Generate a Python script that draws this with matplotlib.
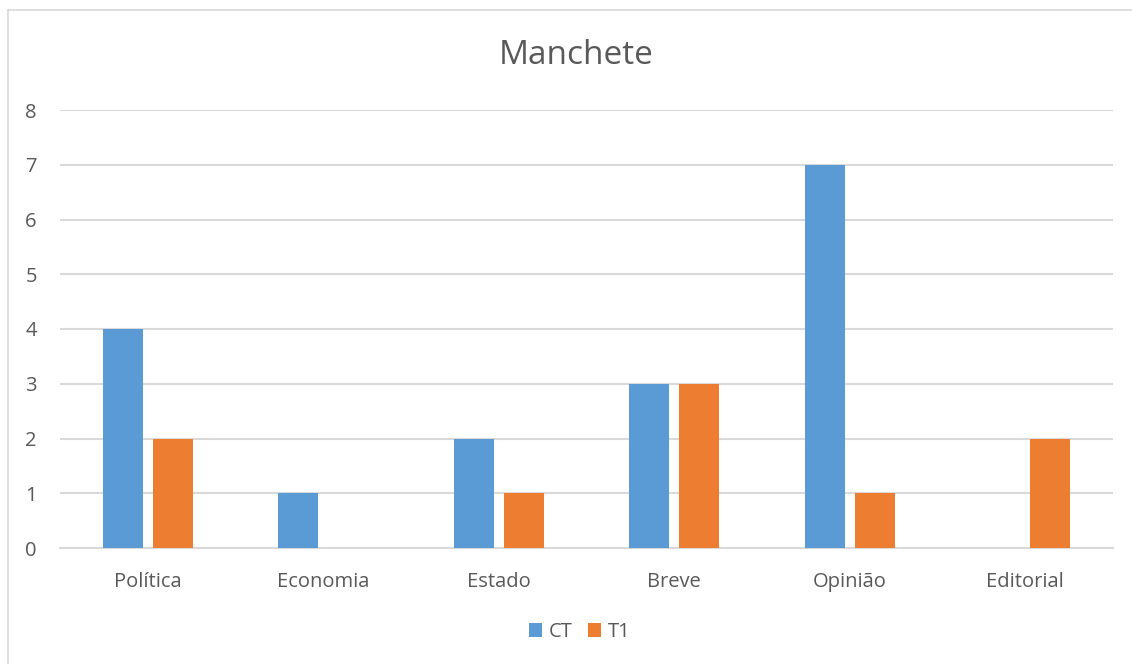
import numpy as np
import matplotlib.pyplot as plt
from matplotlib.lines import Line2D

categories = ['Política', 'Economia', 'Estado', 'Breve', 'Opinião', 'Editorial']
ct_values = [4, 1, 2, 3, 7, 0]
t1_values = [2, 0, 1, 3, 1, 2]
y_ticks = [0, 1, 2, 3, 4, 5, 6, 7, 8]

BLUE = '#5B9BD5'
ORANGE = '#ED7D31'
TEXT = '#595959'
GRID = '#D9D9D9'

plt.rcParams['font.family'] = ['Open Sans', 'DejaVu Sans']

fig = plt.figure(figsize=(11.32, 6.64), dpi=100)
ax = fig.add_axes([60 / 1132, 1 - 548 / 664, 1053 / 1132, 438 / 664])

x = np.arange(len(categories))
w = 40 / 175.5
off = 25 / 175.5
ax.bar(x - off, ct_values, w, color=BLUE, label='CT', zorder=3)
ax.bar(x + off, t1_values, w, color=ORANGE, label='T1', zorder=3)

ax.set_xlim(-0.5, len(categories) - 0.5)
ax.set_ylim(0, 8)
ax.set_yticks(y_ticks)
ax.set_xticks(x)
ax.set_xticklabels(categories)
ax.yaxis.grid(True, color=GRID, linewidth=1.5, zorder=0)
ax.set_axisbelow(True)
for side in ['left', 'right', 'top']:
    ax.spines[side].set_visible(False)
ax.spines['bottom'].set_color(GRID)
ax.spines['bottom'].set_linewidth(1.5)
ax.tick_params(axis='both', length=0, colors=TEXT, labelsize=14.5)
ax.tick_params(axis='x', pad=17)
ax.tick_params(axis='y', pad=25)
for lbl in ax.get_yticklabels():
    lbl.set_horizontalalignment('left')

fig.text(576 / 1132, 1 - 55 / 664, 'Manchete', ha='center', va='center',
         fontsize=24, color=TEXT)

leg = fig.legend(loc='center', bbox_to_anchor=(580 / 1132, 1 - 632 / 664),
                 ncol=2, frameon=False, fontsize=14.5, handlelength=0.65,
                 handleheight=0.65, handletextpad=0.35, columnspacing=0.75)
for t in leg.get_texts():
    t.set_color(TEXT)

# chart frame
fig.add_artist(Line2D([8 / 1132, 8 / 1132], [0, 1 - 10 / 664], color=GRID,
                      linewidth=1.2, transform=fig.transFigure))
fig.add_artist(Line2D([8 / 1132, 1], [1 - 10 / 664, 1 - 10 / 664], color=GRID,
                      linewidth=1.2, transform=fig.transFigure))

fig.savefig('out.png', dpi=100)
